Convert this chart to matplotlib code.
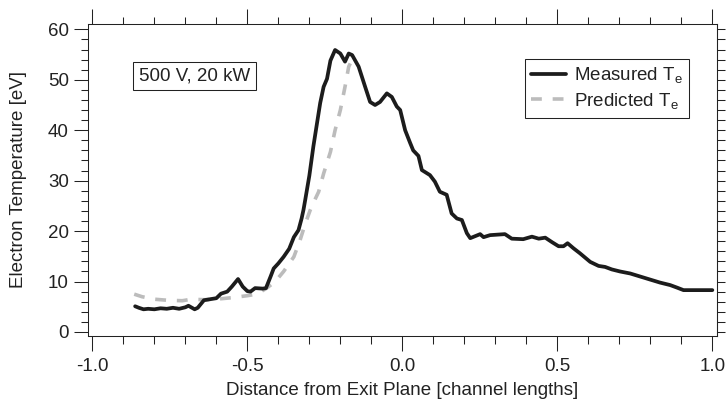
# Electron temperature along the thruster axis: measured vs predicted (500 V, 20 kW).

import matplotlib
matplotlib.use('Agg')
import matplotlib.pyplot as plt
from matplotlib.ticker import MultipleLocator, FuncFormatter, NullLocator
import numpy as np

plt.rcParams['font.family'] = ['Liberation Sans', 'DejaVu Sans']
plt.rcParams['axes.unicode_minus'] = False
plt.rcParams['mathtext.default'] = 'regular'

# measured electron temperature [eV] vs distance from exit plane [channel lengths]
x_meas = np.array([-0.862, -0.85, -0.835, -0.82, -0.80, -0.78, -0.76, -0.74, -0.72, -0.70,
                   -0.69, -0.67, -0.66, -0.64, -0.62, -0.60, -0.585, -0.565, -0.55, -0.53,
                   -0.515, -0.50, -0.49, -0.475, -0.45, -0.44, -0.425, -0.415, -0.40, -0.383,
                   -0.365, -0.35, -0.335, -0.325, -0.319, -0.313, -0.30, -0.287, -0.275, -0.265,
                   -0.254, -0.243, -0.232, -0.217, -0.20, -0.185, -0.173, -0.162, -0.141, -0.12,
                   -0.104, -0.088, -0.072, -0.05, -0.034, -0.018, -0.007, 0.009, 0.025, 0.035,
                   0.052, 0.063, 0.089, 0.105, 0.121, 0.143, 0.159, 0.176, 0.192, 0.208,
                   0.219, 0.235, 0.251, 0.262, 0.283, 0.331, 0.353, 0.39, 0.418, 0.44,
                   0.461, 0.483, 0.504, 0.52, 0.533, 0.552, 0.573, 0.606, 0.633, 0.654,
                   0.676, 0.702, 0.735, 0.767, 0.799, 0.831, 0.864, 0.886, 0.907, 0.94,
                   1.0])
te_meas = np.array([5.1, 4.8, 4.5, 4.6, 4.5, 4.7, 4.6, 4.8, 4.6, 4.9,
                    5.2, 4.5, 4.8, 6.3, 6.5, 6.7, 7.6, 8.0, 9.0, 10.5,
                    9.0, 8.1, 8.0, 8.7, 8.6, 8.7, 11.0, 12.6, 13.6, 14.9,
                    16.5, 18.8, 20.2, 22.5, 24.2, 26.3, 31.0, 36.8, 41.5, 45.4,
                    48.6, 50.2, 53.8, 55.9, 55.2, 53.6, 55.2, 54.9, 52.6, 48.6,
                    45.6, 45.0, 45.6, 47.3, 46.6, 44.7, 44.0, 40.0, 37.5, 36.0,
                    34.9, 32.1, 31.1, 29.8, 27.8, 27.2, 23.5, 22.5, 22.2, 19.6,
                    18.6, 19.0, 19.4, 18.8, 19.2, 19.4, 18.5, 18.4, 18.9, 18.5,
                    18.7, 17.8, 17.0, 17.0, 17.6, 16.6, 15.6, 13.9, 13.1, 12.9,
                    12.4, 12.0, 11.6, 11.0, 10.4, 9.8, 9.3, 8.8, 8.3, 8.3,
                    8.3])

# predicted electron temperature [eV]
x_pred = np.array([-0.865, -0.84, -0.80, -0.76, -0.71, -0.68, -0.64, -0.60, -0.55, -0.50,
                   -0.47, -0.44, -0.41, -0.383, -0.35, -0.33, -0.313, -0.297, -0.28, -0.27,
                   -0.254, -0.232, -0.217, -0.20, -0.185, -0.173, -0.162, -0.155])
te_pred = np.array([7.5, 7.0, 6.5, 6.3, 6.2, 6.5, 6.4, 6.5, 6.8, 7.2,
                    7.5, 8.6, 10.0, 12.0, 14.9, 18.2, 21.5, 24.2, 26.5, 27.8,
                    31.4, 35.7, 40.0, 44.0, 48.6, 52.6, 54.0, 55.0])

axis_color = '#222222'

fig = plt.figure(figsize=(7.27, 4.0), dpi=100)
ax = fig.add_axes([0.1215, 0.1608, 0.8643, 0.7785])

ax.plot(x_meas, te_meas, color='#1c1c1c', lw=2.7, zorder=3,
        solid_joinstyle='round', solid_capstyle='round', label='Measured T$_e$')
ax.plot(x_pred, te_pred, color='#bcbcbc', lw=2.6, dashes=(3, 3), zorder=2,
        label='Predicted T$_e$')

ax.set_xlim(-1.013, 1.014)
ax.set_ylim(-0.73, 61)

# ticks: outward, Igor style
ax.xaxis.set_major_locator(MultipleLocator(0.5))
ax.xaxis.set_minor_locator(MultipleLocator(0.1))
ax.xaxis.set_major_formatter(FuncFormatter(lambda v, p: '%.1f' % (round(v, 3) + 0.0)))
ax.yaxis.set_major_locator(MultipleLocator(10))
ax.yaxis.set_minor_locator(MultipleLocator(2))

ax.tick_params(axis='both', which='both', direction='out', width=0.75,
               color=axis_color, labelcolor=axis_color, labelsize=13.5)
ax.tick_params(axis='x', which='both', top=True, labeltop=False)
ax.tick_params(axis='x', which='major', length=10.8, pad=5)
ax.tick_params(axis='x', which='minor', length=5.4)
ax.tick_params(axis='y', which='both', right=False)
ax.tick_params(axis='y', which='major', length=10, pad=4)
ax.tick_params(axis='y', which='minor', length=5)

for s in ax.spines.values():
    s.set_linewidth(0.75)
    s.set_color(axis_color)

# right axis: plain ticks every 2 eV, no labels
rax = ax.secondary_yaxis('right')
rax.yaxis.set_major_locator(MultipleLocator(2))
rax.yaxis.set_minor_locator(NullLocator())
rax.tick_params(axis='y', direction='out', length=5.8, width=0.75,
                color=axis_color, labelright=False)
rax.spines['right'].set_linewidth(0.75)
rax.spines['right'].set_color(axis_color)

fig.text(0.553, 1 - 395 / 400, 'Distance from Exit Plane [channel lengths]',
         ha='center', va='baseline', fontsize=13.5, color=axis_color)
fig.text(19 / 727, 1 - 180 / 400, 'Electron Temperature [eV]', rotation=90,
         ha='center', va='center', fontsize=13.5, color=axis_color)

ax.text(0.169, 0.834, '500 V, 20 kW', transform=ax.transAxes, ha='center', va='center',
        fontsize=13.5, color=axis_color,
        bbox=dict(boxstyle='square,pad=0.3', fc='white', ec=axis_color, lw=0.75))

leg = ax.legend(loc='upper right', bbox_to_anchor=(0.956, 0.889), borderaxespad=0,
                fancybox=False, framealpha=1, edgecolor=axis_color, fontsize=13.5,
                handlelength=1.85, handletextpad=0.4, borderpad=0.35, labelspacing=0.3)
leg.get_frame().set_linewidth(0.75)
for t in leg.get_texts():
    t.set_color(axis_color)

fig.savefig('out.png', dpi=100)
